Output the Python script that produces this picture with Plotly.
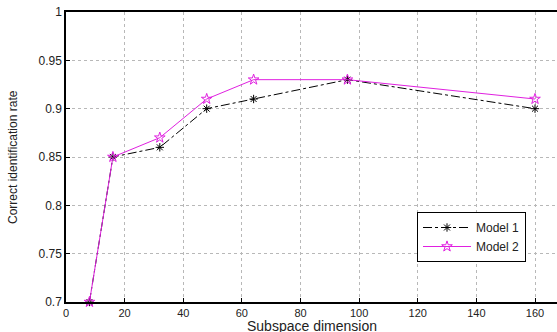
import plotly.graph_objects as go

dims = [8, 16, 32, 48, 64, 96, 160]
model1 = [0.70, 0.85, 0.86, 0.90, 0.91, 0.93, 0.90]
model2 = [0.70, 0.85, 0.87, 0.91, 0.93, 0.93, 0.91]
xticks = [0, 20, 40, 60, 80, 100, 120, 140, 160]
yticks = [0.7, 0.75, 0.8, 0.85, 0.9, 0.95, 1]
ytext = ["0.7", "0.75", "0.8", "0.85", "0.9", "0.95", "1"]

W, H, L, R, T, B = 557, 332, 66, 0, 12, 30
pw, ph = W - L - R, H - T - B

fig = go.Figure()
fig.add_trace(go.Scatter(x=dims, y=model1, name="Model 1", mode="lines+markers",
                         line=dict(color="black", width=1, dash="dashdot"),
                         marker=dict(symbol="asterisk-open", size=7, color="black", line=dict(width=1, color="black")),
                         cliponaxis=False))
fig.add_trace(go.Scatter(x=dims, y=model2, name="Model 2", mode="lines+markers",
                         line=dict(color="#e020e0", width=1),
                         marker=dict(symbol="star-open", size=8, color="#e020e0", line=dict(width=1, color="#e020e0")),
                         cliponaxis=False))

axis_common = dict(showline=True, linecolor="black", linewidth=1.5, mirror=True,
                   ticks="inside", ticklen=4, tickcolor="black",
                   showgrid=True, gridcolor="#b8b8b8", griddash="dot", gridwidth=1,
                   zeroline=False, automargin=False,
                   tickfont=dict(family="Liberation Sans, Arial", size=12, color="#222"))

fig.update_layout(
    width=W, height=H,
    margin=dict(l=L, r=R, t=T, b=B, autoexpand=False),
    plot_bgcolor="white", paper_bgcolor="white",
    font=dict(family="Liberation Sans, Arial", color="#222"),
    xaxis=dict(range=[0, 167.5], tickvals=xticks, **axis_common),
    yaxis=dict(range=[0.7, 1.0], tickvals=yticks, ticktext=ytext, **axis_common),
    showlegend=True,
    legend=dict(x=(417 - L) / pw, y=1 - (212 - T) / ph, xanchor="left", yanchor="top",
                bordercolor="black", borderwidth=1, bgcolor="white",
                font=dict(size=12), tracegroupgap=0, itemwidth=48),
    annotations=[
        dict(text="Subspace dimension", x=(312 - L) / pw, y=-(317 - (H - B)) / ph,
             xref="paper", yref="paper", showarrow=False, font=dict(size=14),
             xanchor="center", yanchor="top", borderpad=0),
        dict(text="Correct identification rate", x=(13 - L) / pw, y=0.5,
             xref="paper", yref="paper", showarrow=False, textangle=-90,
             font=dict(size=12), xanchor="center", yanchor="middle"),
    ],
)
fig.update_xaxes(tickfont=dict(size=11))
fig.write_html("out.html", config={"displayModeBar": False},
               post_script="document.body.style.margin='0px';")
